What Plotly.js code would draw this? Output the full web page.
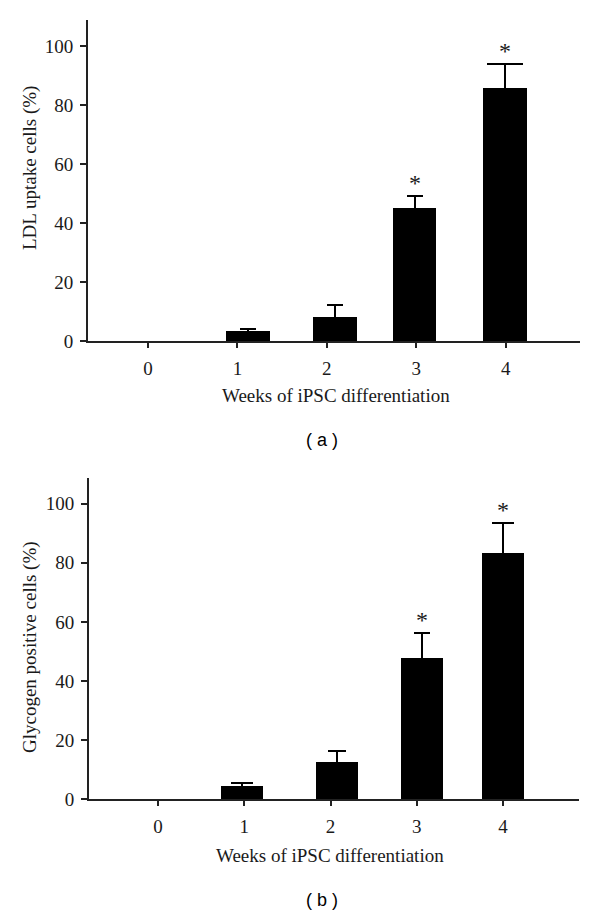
<!DOCTYPE html>
<html>
<head>
<meta charset="utf-8">
<script src="https://cdn.plot.ly/plotly-3.0.1.min.js"></script>
<style>
html,body{margin:0;padding:0;background:#fff;}
#chart{width:600px;height:916px;}
</style>
</head>
<body>
<div id="chart"></div>
<script>
// ---- data ----
const weeks = ['0', '1', '2', '3', '4'];
const ldlValues = [0, 3.3, 8.2, 45.1, 85.9];
const ldlErrors = [0, 0.6, 4.1, 4.2, 8.1];
const ldlSignificant = [false, false, false, true, true];

const glyValues = [0, 4.5, 12.5, 47.8, 83.3];
const glyErrors = [0, 1.0, 3.9, 8.5, 10.1];
const glySignificant = [false, false, false, true, true];

const yTicks = [0, 20, 40, 60, 80, 100];

// ---- styles ----
const serif = '"Liberation Serif", "DejaVu Serif", serif';
const sans = '"Liberation Sans", Arial, sans-serif';
const ink = '#1a1a1a';
const barWidth = 0.49;
const capWidthsTop = [8, 8, 8, 8, 18];
const capWidthsBot = [11, 11, 9, 8, 11];
const shiftTop = [0, 0.12, 0.09, -0.02, -0.01];
const shiftBot = [0, -0.03, 0.075, 0.058, 0];

function barTraces(vals, errs, caps, shifts, xa, ya) {
  return weeks.map((w, i) => ({
    type: 'bar',
    x: [w],
    y: [vals[i]],
    xaxis: xa, yaxis: ya,
    width: barWidth,
    offset: -barWidth / 2 + shifts[i],
    marker: {color: '#000', line: {width: 0}},
    error_y: {type: 'data', array: [errs[i]], symmetric: true,
              visible: errs[i] > 0, color: '#000', thickness: 2, width: caps[i]},
    showlegend: false,
    hoverinfo: 'skip'
  }));
}

const data = [
  ...barTraces(ldlValues, ldlErrors, capWidthsTop, shiftTop, 'x', 'y'),
  ...barTraces(glyValues, glyErrors, capWidthsBot, shiftBot, 'x2', 'y2')
];

function starAnnotations(vals, errs, sig, shifts, xref, yref) {
  const out = [];
  weeks.forEach((w, i) => {
    if (sig[i]) out.push({
      x: i + shifts[i], y: vals[i] + errs[i], xref: xref, yref: yref,
      text: '*', showarrow: false, yanchor: 'bottom', yshift: -2,
      font: {family: serif, size: 24, color: ink}
    });
  });
  return out;
}

const xAxisBase = {
  type: 'category',
  showline: true, linecolor: '#222', linewidth: 2,
  ticks: 'outside', ticklen: 5, tickwidth: 2, tickcolor: '#222',
  showgrid: false, zeroline: false,
  tickfont: {family: serif, size: 19, color: ink},
  ticklabelstandoff: 4,
  fixedrange: true
};
const yAxisBase = {
  showline: true, linecolor: '#222', linewidth: 2,
  ticks: 'outside', ticklen: 6, tickwidth: 2, tickcolor: '#222',
  showgrid: false, zeroline: false,
  tickvals: yTicks, ticktext: yTicks.map(String),
  tickfont: {family: serif, size: 19, color: ink},
  ticklabelstandoff: 3,
  fixedrange: true
};

const layout = {
  width: 600, height: 916,
  margin: {l: 0, r: 0, t: 0, b: 0},
  paper_bgcolor: '#fff', plot_bgcolor: '#fff',
  barmode: 'overlay',
  bargap: 0,
  font: {family: serif},
  xaxis: Object.assign({}, xAxisBase, {domain: [88/600, 580/600], range: [-0.67, 4.83], anchor: 'y'}),
  yaxis: Object.assign({}, yAxisBase, {domain: [1 - 341/916, 1 - 20/916], range: [0, 108.8], anchor: 'x'}),
  xaxis2: Object.assign({}, xAxisBase, {domain: [89/600, 579/600], range: [-0.8, 4.88], anchor: 'y2'}),
  yaxis2: Object.assign({}, yAxisBase, {domain: [1 - 799.3/916, 1 - 478/916], range: [0, 108.7], anchor: 'x2'}),
  annotations: [
    ...starAnnotations(ldlValues, ldlErrors, ldlSignificant, shiftTop, 'x', 'y'),
    ...starAnnotations(glyValues, glyErrors, glySignificant, shiftBot, 'x2', 'y2'),
    {text: 'LDL uptake cells (%)', textangle: -90, xref: 'paper', yref: 'paper',
     x: 30/600, y: 1 - 168/916, showarrow: false, xanchor: 'center', yanchor: 'middle',
     font: {family: serif, size: 19, color: ink}},
    {text: 'Weeks of iPSC differentiation', xref: 'paper', yref: 'paper',
     x: 336/600, y: 1 - 395/916, showarrow: false, xanchor: 'center', yanchor: 'middle',
     font: {family: serif, size: 19, color: ink}},
    {text: '( a )', xref: 'paper', yref: 'paper',
     x: 322/600, y: 1 - 440/916, showarrow: false, xanchor: 'center', yanchor: 'middle',
     font: {family: sans, size: 18, color: '#000'}},
    {text: 'Glycogen positive cells (%)', textangle: -90, xref: 'paper', yref: 'paper',
     x: 30/600, y: 1 - 647/916, showarrow: false, xanchor: 'center', yanchor: 'middle',
     font: {family: serif, size: 19, color: ink}},
    {text: 'Weeks of iPSC differentiation', xref: 'paper', yref: 'paper',
     x: 330/600, y: 1 - 855/916, showarrow: false, xanchor: 'center', yanchor: 'middle',
     font: {family: serif, size: 19, color: ink}},
    {text: '( b )', xref: 'paper', yref: 'paper',
     x: 322/600, y: 1 - 900/916, showarrow: false, xanchor: 'center', yanchor: 'middle',
     font: {family: sans, size: 18, color: '#000'}}
  ]
};

Plotly.newPlot('chart', data, layout, {displayModeBar: false, staticPlot: true});
</script>
</body>
</html>
